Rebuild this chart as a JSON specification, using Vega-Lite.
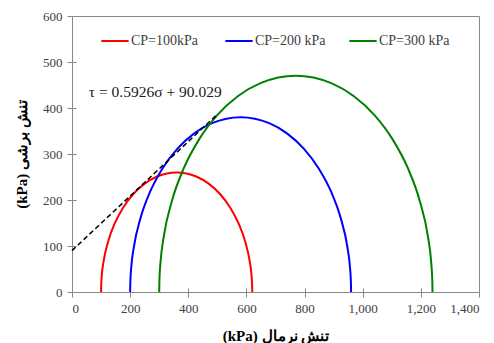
{
  "$schema": "https://vega.github.io/schema/vega-lite/v6.json",
  "width": 407,
  "height": 276,
  "autosize": {"type": "none"},
  "padding": {"left": 72, "top": 16, "right": 15, "bottom": 51},
  "background": "white",
  "config": {
    "font": "Liberation Serif",
    "view": {"stroke": "#888888", "strokeWidth": 1},
    "axis": {"grid": false, "domain": false, "offset": -4, "tickSize": 9, "tickColor": "#888888", "labelColor": "#404040", "labelFont": "Liberation Serif", "labelFontSize": 13, "titleFont": "Liberation Serif", "titleFontSize": 15, "titleFontWeight": "bold", "titleColor": "#000000"}
  },
  "datasets": {
    "circles": [
      {"s": "CP=100kPa", "x": 100, "y": 0}, {"s": "CP=100kPa", "x": 100.4, "y": 13.6}, {"s": "CP=100kPa", "x": 102.5, "y": 36.2}, {"s": "CP=100kPa", "x": 108.9, "y": 67.3}, {"s": "CP=100kPa", "x": 124.4, "y": 109.9}, {"s": "CP=100kPa", "x": 147.0, "y": 149.1}, {"s": "CP=100kPa", "x": 176.2, "y": 183.9}, {"s": "CP=100kPa", "x": 210.9, "y": 213.0}, {"s": "CP=100kPa", "x": 250.1, "y": 235.6}, {"s": "CP=100kPa", "x": 292.7, "y": 251.1}, {"s": "CP=100kPa", "x": 360, "y": 260}, {"s": "CP=100kPa", "x": 427.3, "y": 251.1}, {"s": "CP=100kPa", "x": 469.9, "y": 235.6}, {"s": "CP=100kPa", "x": 509.1, "y": 213.0}, {"s": "CP=100kPa", "x": 543.8, "y": 183.9}, {"s": "CP=100kPa", "x": 573.0, "y": 149.1}, {"s": "CP=100kPa", "x": 595.6, "y": 109.9}, {"s": "CP=100kPa", "x": 611.1, "y": 67.3}, {"s": "CP=100kPa", "x": 617.5, "y": 36.2}, {"s": "CP=100kPa", "x": 619.6, "y": 13.6}, {"s": "CP=100kPa", "x": 620, "y": 0},
      {"s": "CP=200 kPa", "x": 200, "y": 0}, {"s": "CP=200 kPa", "x": 200.5, "y": 19.9}, {"s": "CP=200 kPa", "x": 203.7, "y": 52.9}, {"s": "CP=200 kPa", "x": 213.0, "y": 98.4}, {"s": "CP=200 kPa", "x": 235.6, "y": 160.6}, {"s": "CP=200 kPa", "x": 268.7, "y": 218.0}, {"s": "CP=200 kPa", "x": 311.3, "y": 268.7}, {"s": "CP=200 kPa", "x": 362.0, "y": 311.3}, {"s": "CP=200 kPa", "x": 419.4, "y": 344.4}, {"s": "CP=200 kPa", "x": 481.7, "y": 367.1}, {"s": "CP=200 kPa", "x": 580, "y": 380}, {"s": "CP=200 kPa", "x": 678.4, "y": 367.1}, {"s": "CP=200 kPa", "x": 740.6, "y": 344.4}, {"s": "CP=200 kPa", "x": 798.0, "y": 311.3}, {"s": "CP=200 kPa", "x": 848.7, "y": 268.7}, {"s": "CP=200 kPa", "x": 891.3, "y": 218.0}, {"s": "CP=200 kPa", "x": 924.4, "y": 160.6}, {"s": "CP=200 kPa", "x": 947.1, "y": 98.4}, {"s": "CP=200 kPa", "x": 956.3, "y": 52.9}, {"s": "CP=200 kPa", "x": 959.5, "y": 19.9}, {"s": "CP=200 kPa", "x": 960, "y": 0},
      {"s": "CP=300 kPa", "x": 300, "y": 0}, {"s": "CP=300 kPa", "x": 300.6, "y": 24.6}, {"s": "CP=300 kPa", "x": 304.6, "y": 65.4}, {"s": "CP=300 kPa", "x": 316.0, "y": 121.7}, {"s": "CP=300 kPa", "x": 344.0, "y": 198.6}, {"s": "CP=300 kPa", "x": 385.0, "y": 269.6}, {"s": "CP=300 kPa", "x": 437.7, "y": 332.3}, {"s": "CP=300 kPa", "x": 500.4, "y": 385.0}, {"s": "CP=300 kPa", "x": 571.4, "y": 426.0}, {"s": "CP=300 kPa", "x": 648.4, "y": 454.0}, {"s": "CP=300 kPa", "x": 770, "y": 470}, {"s": "CP=300 kPa", "x": 891.7, "y": 454.0}, {"s": "CP=300 kPa", "x": 968.6, "y": 426.0}, {"s": "CP=300 kPa", "x": 1039.6, "y": 385.0}, {"s": "CP=300 kPa", "x": 1102.3, "y": 332.3}, {"s": "CP=300 kPa", "x": 1155.0, "y": 269.6}, {"s": "CP=300 kPa", "x": 1196.0, "y": 198.6}, {"s": "CP=300 kPa", "x": 1224.0, "y": 121.7}, {"s": "CP=300 kPa", "x": 1235.4, "y": 65.4}, {"s": "CP=300 kPa", "x": 1239.4, "y": 24.6}, {"s": "CP=300 kPa", "x": 1240, "y": 0}
    ],
    "fit": [{"x": 0, "y": 90.029}, {"x": 500, "y": 386.329}],
    "label": [{"x": 58, "y": 435, "t": "τ = 0.5926σ + 90.029"}]
  },
  "layer": [
    {
      "data": {"name": "circles"},
      "mark": {"type": "line", "strokeWidth": 2, "interpolate": "monotone"},
      "encoding": {
        "x": {"field": "x", "type": "quantitative", "scale": {"domain": [0, 1400], "nice": false}, "axis": {"values": [0, 200, 400, 600, 800, 1000, 1200, 1400], "format": ",d", "title": "(kPa) تنش نرمال", "titlePadding": 13, "labelPadding": 5}},
        "y": {"field": "y", "type": "quantitative", "scale": {"domain": [0, 600], "nice": false}, "axis": {"values": [0, 100, 200, 300, 400, 500, 600], "title": "(kPa) تنش برشی", "titleX": -47, "titleY": 138, "labelPadding": 5}},
        "color": {"field": "s", "type": "nominal", "scale": {"domain": ["CP=100kPa", "CP=200 kPa", "CP=300 kPa"], "range": ["#FF0000", "#0000FF", "#008000"]},
          "legend": {"title": null, "orient": "none", "legendX": 28, "legendY": 10, "direction": "horizontal", "symbolType": "stroke", "symbolSize": 745, "symbolStrokeWidth": 2, "labelFont": "Liberation Serif", "labelFontSize": 14, "labelColor": "#404040", "labelOffset": 1, "columnPadding": 19, "gridAlign": "all"}}
      }
    },
    {
      "data": {"name": "fit"},
      "mark": {"type": "line", "color": "#000000", "strokeWidth": 1.5, "strokeDash": [5, 3]},
      "encoding": {"x": {"field": "x", "type": "quantitative"}, "y": {"field": "y", "type": "quantitative"}}
    },
    {
      "data": {"name": "label"},
      "mark": {"type": "text", "align": "left", "baseline": "middle", "font": "Liberation Serif", "fontSize": 15.5, "color": "#202020"},
      "encoding": {"x": {"field": "x", "type": "quantitative"}, "y": {"field": "y", "type": "quantitative"}, "text": {"field": "t"}}
    }
  ]
}
